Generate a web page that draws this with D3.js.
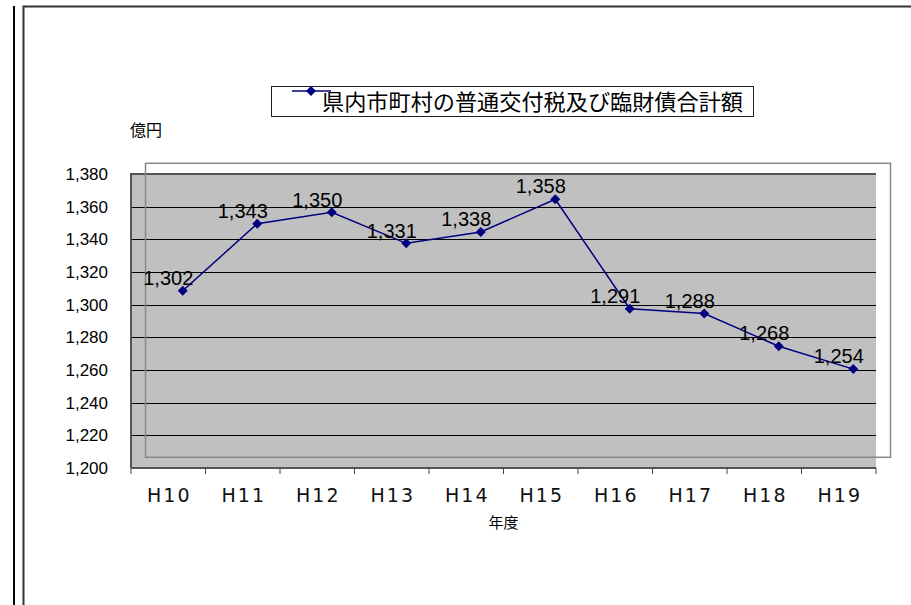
<!DOCTYPE html>
<html>
<head>
<meta charset="utf-8">
<script src="https://cdn.jsdelivr.net/npm/d3@7"></script>
<style>
	body { margin: 0; background: #fff; }
	svg { display: block; }
	.num { font-family: "Liberation Sans", Arial, sans-serif; }
	.jp { font-family: "Noto Sans CJK JP", sans-serif; }
</style>
</head>
<body>
<div id="chart"></div>
<script>
(function() {
	"use strict";

	var WIDTH = 911;
	var HEIGHT = 605;

	var years = ['H10', 'H11', 'H12', 'H13', 'H14', 'H15', 'H16', 'H17', 'H18', 'H19'];
	var amounts = [1302, 1343, 1350, 1331, 1338, 1358, 1291, 1288, 1268, 1254];
	var yTicks = [1200, 1220, 1240, 1260, 1280, 1300, 1320, 1340, 1360, 1380];
	var seriesName = '県内市町村の普通交付税及び臨財債合計額';

	var PLOT = { left: 131, top: 174, right: 876, bottom: 468 };
	// the series layer sits slightly off the plot area, as in the original sheet
	var SHIFT = { x: 14.5, y: -10.7 };
	var LINE_COLOR = '#000080';

	var svg = d3.select('#chart').append('svg')
		.attr('width', WIDTH)
		.attr('height', HEIGHT);

	var x = d3.scaleBand()
		.domain(years)
		.range([PLOT.left, PLOT.right]);

	var y = d3.scaleLinear()
		.domain([d3.min(yTicks), d3.max(yTicks)])
		.range([PLOT.bottom, PLOT.top]);

	var cx = function (d, i) { return x(years[i]) + x.bandwidth() / 2; };

	// sheet frame lines
	svg.append('rect')
		.attr('x', 13).attr('y', 6)
		.attr('width', 2).attr('height', HEIGHT - 6)
		.attr('fill', '#000');
	svg.append('path')
		.attr('d', 'M23.5,' + HEIGHT + 'V6.5H' + WIDTH)
		.attr('fill', 'none')
		.attr('stroke', '#333').attr('stroke-width', 2);

	// plot area
	svg.append('rect')
		.attr('x', PLOT.left)
		.attr('y', PLOT.top)
		.attr('width', PLOT.right - PLOT.left)
		.attr('height', PLOT.bottom - PLOT.top)
		.attr('fill', '#c0c0c0');

	svg.append('g')
		.selectAll('line')
		.data(yTicks.slice(1, -1))
		.enter()
		.append('line')
		.attr('x1', PLOT.left)
		.attr('x2', PLOT.right)
		.attr('y1', function (d) { return Math.round(y(d)) + 0.5; })
		.attr('y2', function (d) { return Math.round(y(d)) + 0.5; })
		.attr('stroke', '#000')
		.attr('stroke-width', 1);

	svg.append('path')
		.attr('d', 'M' + PLOT.left + ',' + PLOT.bottom + 'V' + PLOT.top + 'H' + PLOT.right)
		.attr('fill', 'none')
		.attr('stroke', '#555')
		.attr('stroke-width', 2);

	// y axis labels
	var yAxis = svg.append('g')
		.attr('transform', 'translate(' + PLOT.left + ',0)')
		.call(d3.axisLeft(y).tickValues(yTicks).tickFormat(d3.format(',')).tickSize(0).tickPadding(23));
	yAxis.select('.domain').remove();
	yAxis.selectAll('text')
		.attr('class', 'num')
		.attr('font-size', 17)
		.attr('fill', '#000');

	// x axis
	svg.append('line')
		.attr('x1', PLOT.left).attr('x2', PLOT.right)
		.attr('y1', PLOT.bottom).attr('y2', PLOT.bottom)
		.attr('stroke', '#555').attr('stroke-width', 2);

	svg.append('g')
		.selectAll('line')
		.data(years.concat(['end']))
		.enter()
		.append('line')
		.attr('x1', function (d, i) { return PLOT.left + i * x.bandwidth(); })
		.attr('x2', function (d, i) { return PLOT.left + i * x.bandwidth(); })
		.attr('y1', PLOT.bottom)
		.attr('y2', PLOT.bottom + 6)
		.attr('stroke', '#444')
		.attr('stroke-width', 1);

	svg.append('g')
		.selectAll('text')
		.data(years)
		.enter()
		.append('text')
		.attr('x', function (d) { return x(d) + x.bandwidth() / 2 + 1; })
		.attr('y', 502)
		.attr('text-anchor', 'middle')
		.attr('font-family', '"DejaVu Sans", sans-serif')
		.attr('font-size', 19)
		.attr('letter-spacing', 2)
		.attr('fill', '#111')
		.text(function (d) { return d; });

	svg.append('text')
		.attr('class', 'jp')
		.attr('x', (PLOT.left + PLOT.right) / 2)
		.attr('y', 528)
		.attr('text-anchor', 'middle')
		.attr('font-size', 15)
		.text('年度');

	svg.append('text')
		.attr('class', 'jp')
		.attr('x', 146)
		.attr('y', 136)
		.attr('text-anchor', 'middle')
		.attr('font-size', 16)
		.text('億円');

	// series layer (offset frame)
	var series = svg.append('g')
		.attr('transform', 'translate(' + SHIFT.x + ',' + SHIFT.y + ')');

	series.append('rect')
		.attr('x', PLOT.left)
		.attr('y', PLOT.top)
		.attr('width', PLOT.right - PLOT.left)
		.attr('height', PLOT.bottom - PLOT.top)
		.attr('fill', 'none')
		.attr('stroke', '#888')
		.attr('stroke-width', 1.5);

	series.append('path')
		.datum(amounts)
		.attr('d', d3.line().x(cx).y(function (d) { return y(d); }))
		.attr('fill', 'none')
		.attr('stroke', LINE_COLOR)
		.attr('stroke-width', 1.5);

	var diamond = d3.symbol().type(d3.symbolSquare).size(50);

	series.selectAll('.marker')
		.data(amounts)
		.enter()
		.append('path')
		.classed('marker', true)
		.attr('d', diamond)
		.attr('transform', function (d, i) { return 'translate(' + cx(d, i) + ',' + y(d) + ') rotate(45)'; })
		.attr('fill', LINE_COLOR);

	// data labels stay on the plot coordinates
	svg.append('g')
		.selectAll('text')
		.data(amounts)
		.enter()
		.append('text')
		.attr('class', 'num')
		.attr('x', cx)
		.attr('y', function (d) { return y(d) - 16.5; })
		.attr('text-anchor', 'middle')
		.attr('font-size', 20)
		.attr('fill', '#000')
		.text(d3.format(','));

	// legend
	var legend = svg.append('g');
	legend.append('rect')
		.attr('x', 271.5).attr('y', 86.5)
		.attr('width', 482).attr('height', 30)
		.attr('fill', '#fff')
		.attr('stroke', '#222')
		.attr('stroke-width', 1);
	legend.append('line')
		.attr('x1', 292).attr('x2', 331).attr('y1', 91).attr('y2', 91)
		.attr('stroke', LINE_COLOR).attr('stroke-width', 1.5);
	legend.append('path')
		.attr('d', diamond)
		.attr('transform', 'translate(311,91) rotate(45)')
		.attr('fill', LINE_COLOR);
	legend.append('text')
		.attr('class', 'jp')
		.attr('x', 322)
		.attr('y', 110)
		.attr('font-size', 22)
		.attr('textLength', 421)
		.attr('lengthAdjust', 'spacingAndGlyphs')
		.text(seriesName);
}());
</script>
</body>
</html>
